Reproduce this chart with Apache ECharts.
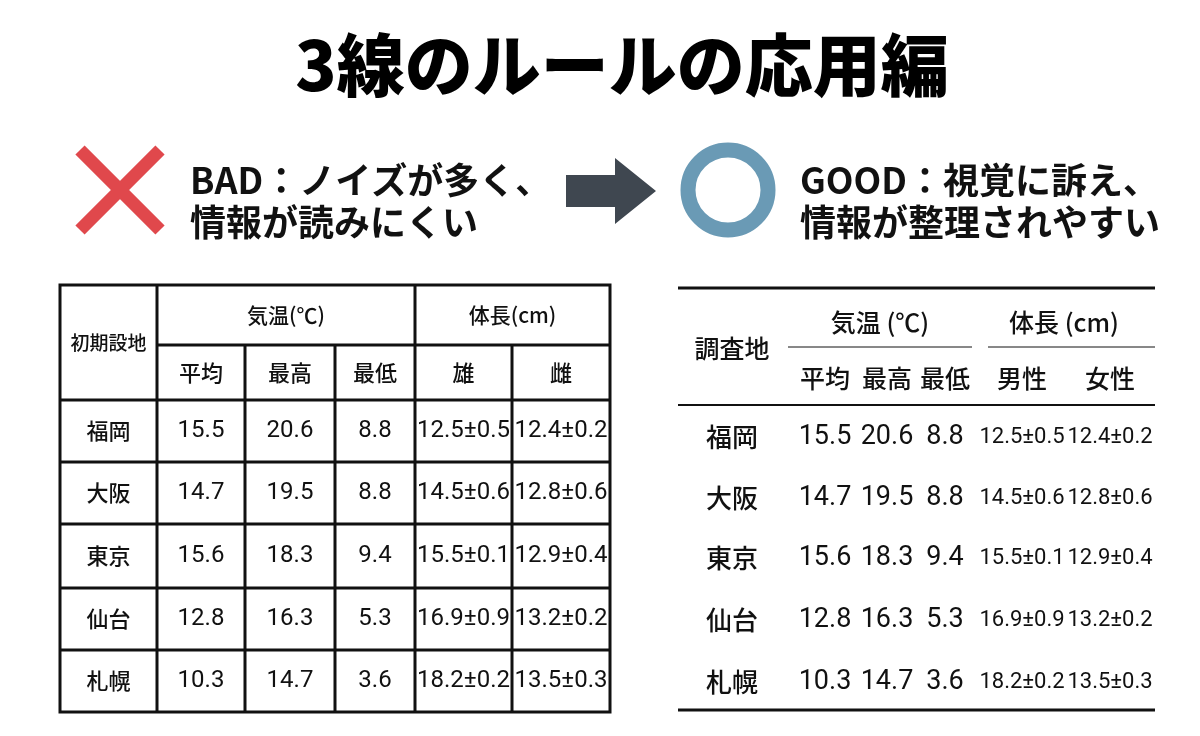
<!DOCTYPE html>
<html>
<head>
<meta charset="utf-8">
<script src="https://cdn.jsdelivr.net/npm/echarts@6/dist/echarts.min.js"></script>
<style>
html,body{margin:0;padding:0;background:#fff;}
#main{width:1200px;height:736px;}
</style>
</head>
<body>
<div id="main"></div>
<script>
// data
var sites = ['福岡', '大阪', '東京', '仙台', '札幌'];
var tempAvg = ['15.5', '14.7', '15.6', '12.8', '10.3'];
var tempMax = ['20.6', '19.5', '18.3', '16.3', '14.7'];
var tempMin = ['8.8', '8.8', '9.4', '5.3', '3.6'];
var lenMale = ['12.5±0.5', '14.5±0.6', '15.5±0.1', '16.9±0.9', '18.2±0.2'];
var lenFemale = ['12.4±0.2', '12.8±0.6', '12.9±0.4', '13.2±0.2', '13.5±0.3'];
var badSub = ['平均', '最高', '最低', '雄', '雌'];
var goodSub = ['平均', '最高', '最低', '男性', '女性'];

var FONT = '"Noto Sans CJK JP", sans-serif';
var NUM = '"Liberation Sans Narrow", "Roboto", sans-serif';
var cols = [tempAvg, tempMax, tempMin, lenMale, lenFemale];
var g = [];

function txt(x, y, s, size, weight, color, align, fam) {
    g.push({
        type: 'text', x: x, y: y,
        style: {
            text: s, fontSize: size, fontWeight: weight || 'normal', fontFamily: fam || FONT,
            fill: color || '#111', align: align || 'center', verticalAlign: 'middle'
        }
    });
}
function line(x1, y1, x2, y2, w) {
    g.push({ type: 'line', shape: { x1: x1, y1: y1, x2: x2, y2: y2 }, style: { stroke: '#111', lineWidth: w } });
}

// title and captions
txt(622, 65, '3線のルールの応用編', 68, 900, '#000');
g.push({ type: 'line', shape: { x1: 80, y1: 150, x2: 160, y2: 230 }, style: { stroke: '#e0484c', lineWidth: 13 } });
g.push({ type: 'line', shape: { x1: 160, y1: 150, x2: 80, y2: 230 }, style: { stroke: '#e0484c', lineWidth: 13 } });
txt(190, 180, 'BAD：ノイズが多く、', 36, 'bold', '#111', 'left');
txt(190, 222, '情報が読みにくい', 36, 'bold', '#111', 'left');
g.push({
    type: 'polygon',
    shape: { points: [[566, 175], [615, 175], [615, 158], [656, 191], [615, 224], [615, 207], [566, 207]] },
    style: { fill: '#3f4750' }
});
g.push({ type: 'circle', shape: { cx: 728, cy: 190, r: 40 }, style: { fill: 'none', stroke: '#6a9ab5', lineWidth: 15 } });
txt(800, 180, 'GOOD：視覚に訴え、', 36, 'bold', '#111', 'left');
txt(800, 222, '情報が整理されやすい', 36, 'bold', '#111', 'left');

// BAD table
var bx = [60, 157, 245, 335, 415, 512, 610];
var by = [285, 345, 400, 462, 524, 588, 650, 712];
g.push({ type: 'rect', shape: { x: bx[0], y: by[0], width: bx[6] - bx[0], height: by[7] - by[0] }, style: { fill: 'none', stroke: '#111', lineWidth: 3 } });
for (var i = 1; i < 6; i++) line(bx[i], i === 1 || i === 4 ? by[0] : by[1], bx[i], by[7], 3);
line(bx[1], by[1], bx[6], by[1], 3);
for (var j = 2; j < 7; j++) line(bx[0], by[j], bx[6], by[j], 3);
txt((bx[0] + bx[1]) / 2, (by[0] + by[2]) / 2, '初期設地', 19, 500);
txt((bx[1] + bx[4]) / 2, (by[0] + by[1]) / 2, '気温(℃)', 21, 500);
txt((bx[4] + bx[6]) / 2, (by[0] + by[1]) / 2, '体長(cm)', 21, 500);
badSub.forEach(function (s, k) { txt((bx[k + 1] + bx[k + 2]) / 2, (by[1] + by[2]) / 2, s, 22, 500); });
sites.forEach(function (s, r) {
    var cy = (by[r + 2] + by[r + 3]) / 2;
    txt((bx[0] + bx[1]) / 2, cy, s, 22, 500);
    cols.forEach(function (c, k) { txt((bx[k + 1] + bx[k + 2]) / 2, cy, c[r], 24, 'normal', '#111', 'center', NUM); });
});

// GOOD table
var gx = [732, 825, 887, 945, 1022, 1110];
var gy = [437, 498, 558, 620, 682];
line(678, 288, 1155, 288, 3);
line(788, 347, 972, 347, 1);
line(988, 347, 1155, 347, 1);
line(678, 405, 1155, 405, 2);
line(678, 710, 1155, 710, 3);
txt(732, 348, '調査地', 25, 500);
txt(880, 322, '気温 (℃)', 25, 500);
txt(1064, 322, '体長 (cm)', 25, 500);
goodSub.forEach(function (s, k) { txt(gx[k + 1], 378, s, 25, 500); });
sites.forEach(function (s, r) {
    txt(gx[0], gy[r], s, 26, 500);
    cols.forEach(function (c, k) { txt(gx[k + 1], gy[r], c[r], k < 3 ? 27 : 22, 'normal', '#111', 'center', NUM); });
});

var chart = echarts.init(document.getElementById('main'));
chart.setOption({ backgroundColor: '#fff', graphic: g });
</script>
</body>
</html>
